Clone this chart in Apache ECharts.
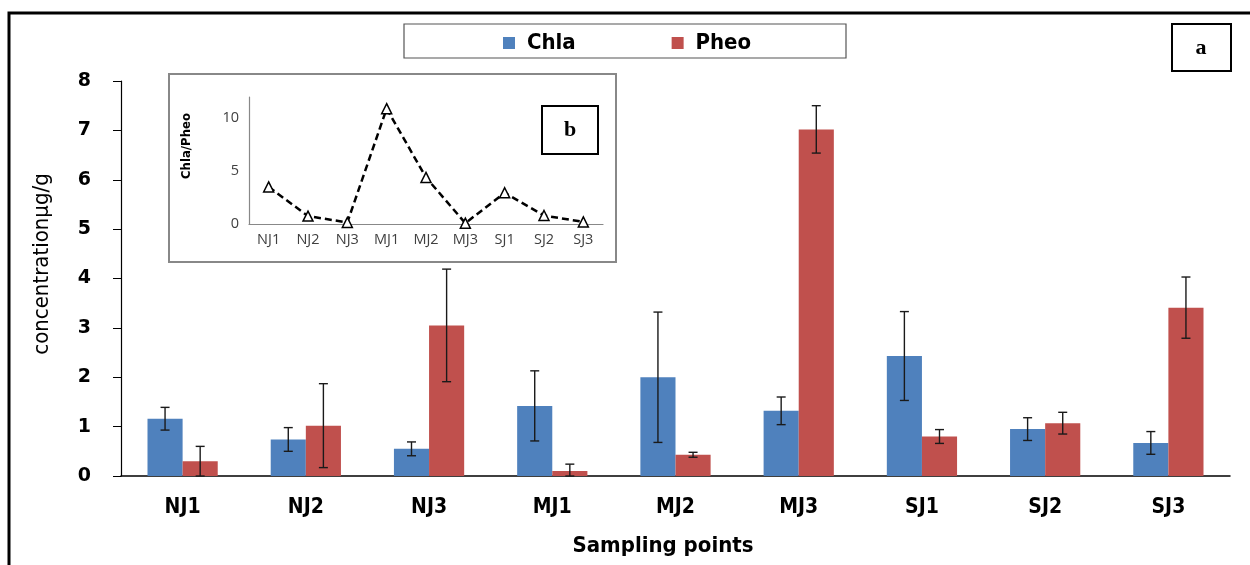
<!DOCTYPE html>
<html lang="en">
<head>
    <meta charset="UTF-8">
    <title>Chla and Pheo concentration</title>
    <script src="https://cdn.jsdelivr.net/npm/echarts@6/dist/echarts.min.js"></script>
    <style>
        html, body { margin: 0; padding: 0; background: #fff; }
        #chart { width: 1250px; height: 565px; }
    </style>
</head>
<body>
    <div id="chart"></div>
    <script>
        // sampling points
        var categories = ['NJ1', 'NJ2', 'NJ3', 'MJ1', 'MJ2', 'MJ3', 'SJ1', 'SJ2', 'SJ3'];
        // concentration (µg/g) and error bars
        var chlaValues = [1.16, 0.74, 0.55, 1.42, 2.00, 1.32, 2.43, 0.95, 0.67];
        var chlaErr    = [0.23, 0.24, 0.14, 0.71, 1.32, 0.28, 0.90, 0.23, 0.23];
        var pheoValues = [0.30, 1.02, 3.05, 0.10, 0.43, 7.02, 0.80, 1.07, 3.41];
        var pheoErr    = [0.30, 0.85, 1.14, 0.14, 0.05, 0.48, 0.14, 0.22, 0.62];
        // inset: Chla/Pheo ratio
        var ratioValues = [3.5, 0.75, 0.15, 10.9, 4.4, 0.08, 2.95, 0.8, 0.2];

        var narrow = '"Liberation Sans Narrow", "DejaVu Sans Condensed", "Open Sans", sans-serif';
        var blue = '#4F81BD', red = '#C0504D';

        var chart = echarts.init(document.getElementById('chart'));

        // error bar drawn beside each bar (offset = -1 left bar, +1 right bar)
        function errorBars(side) {
            return function (params, api) {
                var i = api.value(0), v = api.value(1), e = api.value(2);
                var band = api.size([1, 0])[0];
                var dx = side * band * 0.1425;
                var top = api.coord([i, v + e]);
                var bot = api.coord([i, Math.max(0, v - e)]);
                var x = top[0] + dx;
                var style = { stroke: '#1a1a1a', lineWidth: 1.4 };
                return {
                    type: 'group',
                    children: [
                        { type: 'line', shape: { x1: x, y1: top[1], x2: x, y2: bot[1] }, style: style },
                        { type: 'line', shape: { x1: x - 4.5, y1: top[1], x2: x + 4.5, y2: top[1] }, style: style },
                        { type: 'line', shape: { x1: x - 4.5, y1: bot[1], x2: x + 4.5, y2: bot[1] }, style: style }
                    ]
                };
            };
        }

        var option = {
            animation: false,
            legend: {
                data: ['Chla', 'Pheo'],
                left: 498,
                top: 27,
                icon: 'rect',
                itemWidth: 12,
                itemHeight: 12,
                itemGap: 96,
                formatter: function (name) { return ' ' + name; },
                textStyle: { fontFamily: narrow, fontSize: 22, fontWeight: 'bold', color: '#000' }
            },
            grid: [
                { left: 121, right: 20, top: 81, bottom: 89 },
                { left: 249, right: 647, top: 97, bottom: 341 }
            ],
            xAxis: [{
                type: 'category',
                gridIndex: 0,
                data: categories,
                axisLine: { lineStyle: { color: '#000', width: 1.5 } },
                axisTick: { length: 8, lineStyle: { color: '#000' } },
                axisLabel: { margin: 21, fontFamily: narrow, fontSize: 21, fontWeight: 'bold', color: '#000' }
            }, {
                type: 'category',
                gridIndex: 1,
                data: categories,
                axisLine: { lineStyle: { color: '#888', width: 1.2 } },
                axisTick: { length: 5, lineStyle: { color: '#888' } },
                axisLabel: { margin: 8, fontFamily: '"Open Sans", sans-serif', fontSize: 14.5, color: '#404040' }
            }],
            yAxis: [{
                type: 'value',
                gridIndex: 0,
                min: 0,
                max: 8,
                interval: 1,
                splitLine: { show: false },
                axisLine: { show: true, lineStyle: { color: '#000', width: 1.2 } },
                axisTick: { show: true, length: 8, lineStyle: { color: '#000' } },
                axisLabel: { margin: 30, fontFamily: '"DejaVu Sans", sans-serif', fontSize: 19, fontWeight: 'bold', color: '#000' }
            }, {
                type: 'value',
                gridIndex: 1,
                min: 0,
                max: 12,
                interval: 5,
                splitLine: { show: false },
                axisLine: { show: true, lineStyle: { color: '#888', width: 1.2 } },
                axisTick: { show: false },
                axisLabel: { showMaxLabel: false, margin: 10, fontFamily: '"Open Sans", sans-serif', fontSize: 14.5, color: '#404040' }
            }],
            series: [{
                name: 'Chla',
                type: 'bar',
                xAxisIndex: 0,
                yAxisIndex: 0,
                data: chlaValues,
                barGap: '0%',
                barCategoryGap: '43%',
                itemStyle: { color: blue }
            }, {
                name: 'Pheo',
                type: 'bar',
                xAxisIndex: 0,
                yAxisIndex: 0,
                data: pheoValues,
                itemStyle: { color: red }
            }, {
                name: 'chlaErr',
                type: 'custom',
                xAxisIndex: 0,
                yAxisIndex: 0,
                z: 5,
                renderItem: errorBars(-1),
                data: chlaValues.map(function (v, i) { return [i, v, chlaErr[i]]; })
            }, {
                name: 'pheoErr',
                type: 'custom',
                xAxisIndex: 0,
                yAxisIndex: 0,
                z: 5,
                renderItem: errorBars(1),
                data: pheoValues.map(function (v, i) { return [i, v, pheoErr[i]]; })
            }, {
                name: 'Chla/Pheo',
                type: 'line',
                xAxisIndex: 1,
                yAxisIndex: 1,
                z: 10,
                data: ratioValues,
                symbol: 'triangle',
                symbolSize: 10,
                lineStyle: { color: '#000', width: 2.5, type: [7, 4] },
                itemStyle: { color: '#fff', borderColor: '#000', borderWidth: 1.5 }
            }],
            graphic: [
                // outer frame
                { type: 'rect', z: 0, shape: { x: 9, y: 13, width: 1400, height: 700 },
                  style: { fill: null, stroke: '#000', lineWidth: 3 } },
                // legend box
                { type: 'rect', z: 0, shape: { x: 404, y: 24, width: 442, height: 34 },
                  style: { fill: null, stroke: '#555', lineWidth: 1.2 } },
                // panel label a
                { type: 'rect', z: 0, shape: { x: 1172, y: 24, width: 59, height: 47 },
                  style: { fill: '#fff', stroke: '#000', lineWidth: 2 } },
                { type: 'text', z: 1, x: 1201, y: 48,
                  style: { text: 'a', font: 'bold 22px "Liberation Serif", serif', fill: '#000', align: 'center', verticalAlign: 'middle' } },
                // inset frame
                { type: 'rect', z: -1, shape: { x: 169, y: 74, width: 447, height: 188 },
                  style: { fill: '#fff', stroke: '#888', lineWidth: 2 } },
                // panel label b
                { type: 'rect', z: 1, shape: { x: 542, y: 106, width: 56, height: 48 },
                  style: { fill: '#fff', stroke: '#000', lineWidth: 2 } },
                { type: 'text', z: 2, x: 570, y: 130,
                  style: { text: 'b', font: 'bold 22px "Liberation Serif", serif', fill: '#000', align: 'center', verticalAlign: 'middle' } },
                // axis titles
                { type: 'text', z: 1, x: 42, y: 264, rotation: Math.PI / 2,
                  style: { text: 'concentrationμg/g', font: '22px ' + narrow, fill: '#000', align: 'center', verticalAlign: 'middle' } },
                { type: 'text', z: 1, x: 663, y: 546,
                  style: { text: 'Sampling points', font: 'bold 22px ' + narrow, fill: '#000', align: 'center', verticalAlign: 'middle' } },
                { type: 'text', z: 1, x: 187, y: 146, rotation: Math.PI / 2,
                  style: { text: 'Chla/Pheo', font: 'bold 13px ' + narrow, fill: '#000', align: 'center', verticalAlign: 'middle' } }
            ]
        };

        chart.setOption(option);
    </script>
</body>
</html>
